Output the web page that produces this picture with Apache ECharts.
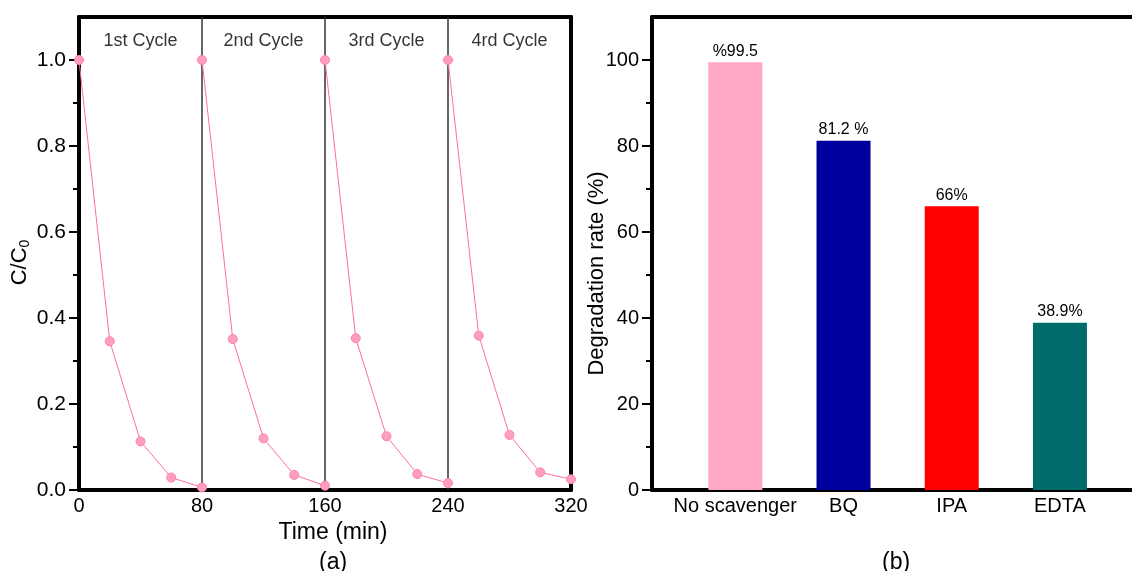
<!DOCTYPE html>
<html>
<head>
<meta charset="utf-8">
<script src="https://cdn.jsdelivr.net/npm/echarts@6/dist/echarts.min.js"></script>
<style>
html, body { margin: 0; padding: 0; background: #fff; }
#main { width: 1132px; height: 571px; }
</style>
</head>
<body>
<div id="main"></div>
<script>
// (a) photocatalytic cycling: C/C0 against time, four consecutive runs
const cycleTimes = [
  [0, 20, 40, 60, 80],
  [80, 100, 120, 140, 160],
  [160, 180, 200, 220, 240],
  [240, 260, 280, 300, 320]
];
const cycle1 = [1.0, 0.346, 0.113, 0.029, 0.006];
const cycle2 = [1.0, 0.351, 0.120, 0.035, 0.010];
const cycle3 = [1.0, 0.353, 0.125, 0.037, 0.016];
const cycle4 = [1.0, 0.359, 0.128, 0.041, 0.025];
const cycleNames = ['1st Cycle', '2nd Cycle', '3rd Cycle', '4rd Cycle'];
const cycleBoundaries = [80, 160, 240];
const ratioTicks = [0, 0.2, 0.4, 0.6, 0.8, 1.0];
const ratioMinorTicks = [0.1, 0.3, 0.5, 0.7, 0.9];

// (b) scavenger trapping experiment
const scavengers = ['No scavenger', 'BQ', 'IPA', 'EDTA'];
const degradation = [99.5, 81.2, 66, 38.9];
const degradationLabels = ['%99.5', '81.2 %', '66%', '38.9%'];
const rateTicks = [0, 20, 40, 60, 80, 100];
const rateMinorTicks = [10, 30, 50, 70, 90];
const barColors = ['#FFA8C8', '#00009C', '#FF0000', '#006B6B'];

const FONT = '"Liberation Sans", Arial, sans-serif';
const frameLine = { show: true, onZero: false, lineStyle: { color: '#000', width: 4 } };
const noLine = { show: false };
const noTick = { show: false };
const noLabel = { show: false };
const noSplit = { show: false };

const chart = echarts.init(document.getElementById('main'));

const cycleSeries = [cycle1, cycle2, cycle3, cycle4].map((vals, c) => ({
  type: 'line',
  xAxisIndex: 0,
  yAxisIndex: 0,
  data: vals.map((v, i) => [cycleTimes[c][i], v]),
  symbol: 'circle',
  symbolSize: 9,
  lineStyle: { color: '#FF6F9F', width: 1 },
  itemStyle: { color: '#FF9FC0', borderColor: '#FF7FAA', borderWidth: 1 },
  z: 5
}));

// cycle captions and separators between runs
const captionSeries = {
  type: 'scatter',
  xAxisIndex: 0,
  yAxisIndex: 0,
  symbolSize: 0,
  data: cycleNames.map((name, i) => ({
    value: [(cycleTimes[i][0] + cycleTimes[i][cycleTimes[i].length - 1]) / 2, 1.045],
    label: { formatter: name }
  })),
  label: { show: true, position: 'inside', color: '#000', fontSize: 18, fontFamily: FONT },
  markLine: {
    silent: true,
    symbol: 'none',
    label: { show: false },
    lineStyle: { color: '#333', width: 1.5, type: 'solid' },
    data: cycleBoundaries.map(x => ({ xAxis: x }))
  },
  z: 3
};

const barSeries = {
  type: 'bar',
  xAxisIndex: 2,
  yAxisIndex: 3,
  barWidth: 54,
  data: scavengers.map((name, i) => ({
    value: [i + 1, degradation[i]],
    itemStyle: { color: barColors[i] },
    label: { formatter: degradationLabels[i] }
  })),
  label: { show: true, position: 'top', distance: 3, color: '#000', fontSize: 16, fontFamily: FONT }
};

const panelTitle = { fontSize: 23, fontWeight: 'normal', color: '#000', fontFamily: FONT };

chart.setOption({
  animation: false,
  backgroundColor: '#fff',
  textStyle: { fontFamily: FONT, color: '#000' },
  title: [
    { text: '(a)', left: 319, top: 551, padding: 0, textStyle: panelTitle },
    { text: '(b)', left: 882, top: 551, padding: 0, textStyle: panelTitle }
  ],
  grid: [
    { left: 79, top: 17, width: 492, bottom: 81 },
    { left: 652, top: 17, right: 0, bottom: 81 }
  ],
  xAxis: [
    {
      gridIndex: 0, type: 'value', position: 'bottom', min: 0, max: 320, interval: 80,
      axisLine: frameLine, axisTick: noTick, splitLine: noSplit,
      axisLabel: { fontSize: 20, margin: 6, color: '#000', fontFamily: FONT },
      name: 'Time (min)', nameLocation: 'middle', nameGap: 31, nameMoveOverlap: false,
      nameTextStyle: { fontSize: 23, color: '#000', fontFamily: FONT, padding: [0, 0, 0, 16] }
    },
    {
      gridIndex: 0, type: 'value', position: 'top', min: 0, max: 320,
      axisLine: frameLine, axisTick: noTick, axisLabel: noLabel, splitLine: noSplit
    },
    {
      gridIndex: 1, type: 'value', position: 'bottom', min: 0.23, max: 4.666,
      axisLine: frameLine, axisTick: noTick, splitLine: noSplit,
      axisLabel: {
        customValues: [1, 2, 3, 4],
        formatter: v => scavengers[Math.round(v) - 1],
        fontSize: 20, margin: 6, color: '#000', fontFamily: FONT
      }
    },
    {
      gridIndex: 1, type: 'value', position: 'top', min: 0.23, max: 4.666,
      axisLine: frameLine, axisTick: noTick, axisLabel: noLabel, splitLine: noSplit
    }
  ],
  yAxis: [
    {
      gridIndex: 0, type: 'value', position: 'left', min: 0, max: 1.1,
      axisLine: frameLine, splitLine: noSplit,
      axisTick: { customValues: ratioTicks, length: 10, lineStyle: { color: '#000', width: 2 } },
      axisLabel: { customValues: ratioTicks, formatter: v => v.toFixed(1), fontSize: 21, margin: 13, color: '#000', fontFamily: FONT },
      name: '{a|C/C}{s|0}', nameLocation: 'middle', nameRotate: 90, nameGap: 47, nameMoveOverlap: false,
      nameTextStyle: {
        color: '#000', fontFamily: FONT, padding: [0, 18, 0, 0],
        rich: {
          a: { fontSize: 22, lineHeight: 24, fontFamily: FONT, color: '#000' },
          s: { fontSize: 14, lineHeight: 14, verticalAlign: 'bottom', fontFamily: FONT, color: '#000' }
        }
      }
    },
    {
      gridIndex: 0, type: 'value', position: 'left', min: 0, max: 1.1,
      axisLine: noLine, axisLabel: noLabel, splitLine: noSplit,
      axisTick: { customValues: ratioMinorTicks, length: 6, lineStyle: { color: '#000', width: 2 } }
    },
    {
      gridIndex: 0, type: 'value', position: 'right', min: 0, max: 1.1,
      axisLine: frameLine, axisTick: noTick, axisLabel: noLabel, splitLine: noSplit
    },
    {
      gridIndex: 1, type: 'value', position: 'left', min: 0, max: 110,
      axisLine: frameLine, splitLine: noSplit,
      axisTick: { customValues: rateTicks, length: 10, lineStyle: { color: '#000', width: 2 } },
      axisLabel: { customValues: rateTicks, fontSize: 20, margin: 13, color: '#000', fontFamily: FONT },
      name: 'Degradation rate (%)', nameLocation: 'middle', nameRotate: 90, nameGap: 44, nameMoveOverlap: false,
      nameTextStyle: { fontSize: 22, color: '#000', fontFamily: FONT, padding: [0, 40, 0, 0] }
    },
    {
      gridIndex: 1, type: 'value', position: 'left', min: 0, max: 110,
      axisLine: noLine, axisLabel: noLabel, splitLine: noSplit,
      axisTick: { customValues: rateMinorTicks, length: 6, lineStyle: { color: '#000', width: 2 } }
    }
  ],
  series: [captionSeries, ...cycleSeries, barSeries]
});
</script>
</body>
</html>
